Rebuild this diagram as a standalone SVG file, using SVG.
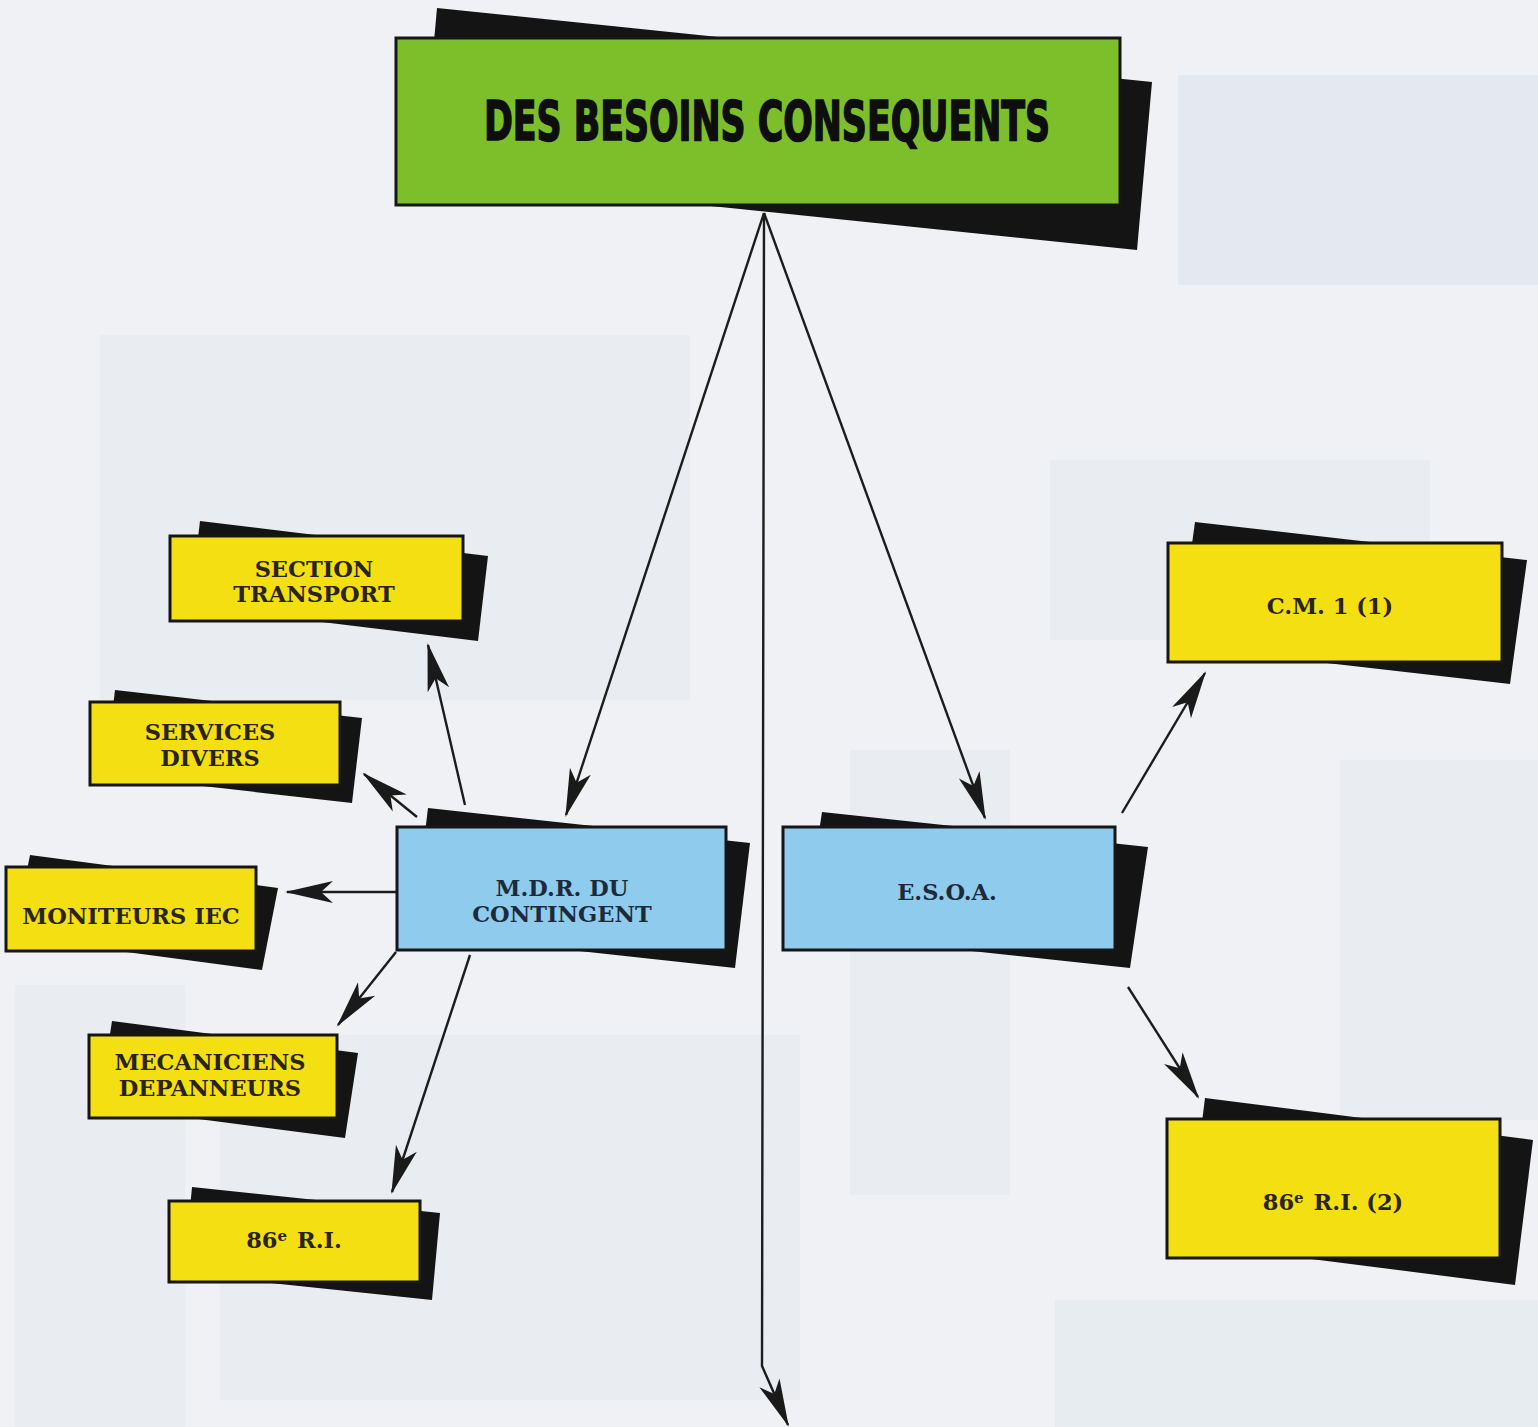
<svg xmlns="http://www.w3.org/2000/svg" width="1538" height="1427" viewBox="0 0 1538 1427">
<defs>
<style>
.sh{fill:#141414}
.box{stroke:#161616;stroke-width:3}
.g{fill:#7dbf2a}
.y{fill:#f4df12}
.b{fill:#8fcbec}
.t{font-family:"DejaVu Serif","Liberation Serif",serif;font-weight:bold;font-size:22.5px;fill:#2a2418;text-anchor:middle}
.tb{fill:#1c2a3a}
.title{font-family:"DejaVu Sans Condensed","Liberation Sans Narrow","Liberation Sans",sans-serif;font-stretch:condensed;font-weight:bold;font-size:56px;fill:#0e0e0e;stroke:#0e0e0e;stroke-width:1.6;text-anchor:middle}
.c{fill:none;stroke:#1c1c1c;stroke-width:2.4}
.ghost{fill:#e4e9ef}
</style>
<marker id="arr" markerUnits="userSpaceOnUse" markerWidth="60" markerHeight="40" viewBox="-50 -20 60 40" refX="0" refY="0" orient="auto">
<path d="M2,0 L-46,-11 L-34,0 L-46,11 Z" fill="#1a1a1a"/>
</marker>
</defs>
<rect x="0" y="0" width="1538" height="1427" fill="#eff1f4"/>
<g id="background">
<rect class="ghost" x="1178" y="75" width="360" height="210"/>
<rect class="ghost" x="100" y="335" width="590" height="365" opacity="0.6"/>
<rect class="ghost" x="1050" y="460" width="380" height="180" opacity="0.5"/>
<rect class="ghost" x="850" y="750" width="160" height="445" opacity="0.5"/>
<rect class="ghost" x="1340" y="760" width="198" height="360" opacity="0.5"/>
<rect class="ghost" x="15" y="985" width="170" height="442" opacity="0.5"/>
<rect class="ghost" x="220" y="1035" width="580" height="365" opacity="0.5"/>
<rect class="ghost" x="1055" y="1300" width="483" height="127" opacity="0.7"/>
</g>
<g id="connectors">
<line class="c" x1="764" y1="213" x2="566" y2="815" marker-end="url(#arr)"/>
<line class="c" x1="764" y1="213" x2="985" y2="818" marker-end="url(#arr)"/>
<polyline class="c" points="764,213 762,1366 788,1425" marker-end="url(#arr)"/>
<line class="c" x1="465" y1="805" x2="428" y2="645" marker-end="url(#arr)"/>
<line class="c" x1="417" y1="817" x2="364" y2="774" marker-end="url(#arr)"/>
<line class="c" x1="397" y1="892" x2="287" y2="892" marker-end="url(#arr)"/>
<line class="c" x1="396" y1="952" x2="338" y2="1025" marker-end="url(#arr)"/>
<line class="c" x1="470" y1="955" x2="392" y2="1192" marker-end="url(#arr)"/>
<line class="c" x1="1122" y1="813" x2="1205" y2="673" marker-end="url(#arr)"/>
<line class="c" x1="1128" y1="987" x2="1198" y2="1097" marker-end="url(#arr)"/>
</g>
<g id="title">
<polygon class="sh" points="437,8 1152,82 1137,250 422,176"/>
<rect class="box g" x="396" y="38" width="724" height="167"/>
<text class="title" x="767" y="140" textLength="566" lengthAdjust="spacingAndGlyphs">DES BESOINS  CONSEQUENTS</text>
</g>
<g id="section-transport">
<polygon class="sh" points="200,521 488,556 478,641 190,606"/>
<rect class="box y" x="170" y="536" width="293" height="85"/>
<text class="t" x="314" y="577">SECTION</text>
<text class="t" x="314" y="602">TRANSPORT</text>
</g>
<g id="services-divers">
<polygon class="sh" points="115,690 362,718 352,803 105,775"/>
<rect class="box y" x="90" y="702" width="250" height="83"/>
<text class="t" x="210" y="740">SERVICES</text>
<text class="t" x="210" y="766">DIVERS</text>
</g>
<g id="moniteurs-iec">
<polygon class="sh" points="30,855 278,888 262,970 14,937"/>
<rect class="box y" x="6" y="867" width="250" height="84"/>
<text class="t" x="131" y="924">MONITEURS IEC</text>
</g>
<g id="mdr">
<polygon class="sh" points="428,808 750,843 735,968 413,933"/>
<rect class="box b" x="397" y="827" width="329" height="123"/>
<text class="t tb" x="562" y="896">M.D.R. DU</text>
<text class="t tb" x="562" y="922">CONTINGENT</text>
</g>
<g id="esoa">
<polygon class="sh" points="822,812 1148,847 1130,968 804,933"/>
<rect class="box b" x="783" y="827" width="332" height="123"/>
<text class="t tb" x="947" y="900">E.S.O.A.</text>
</g>
<g id="cm1">
<polygon class="sh" points="1195,522 1527,560 1510,684 1178,646"/>
<rect class="box y" x="1168" y="543" width="334" height="119"/>
<text class="t" x="1330" y="614">C.M. 1  (1)</text>
</g>
<g id="mecaniciens">
<polygon class="sh" points="112,1021 358,1053 345,1138 99,1106"/>
<rect class="box y" x="89" y="1035" width="248" height="83"/>
<text class="t" x="210" y="1070">MECANICIENS</text>
<text class="t" x="210" y="1096">DEPANNEURS</text>
</g>
<g id="ri86">
<polygon class="sh" points="192,1187 440,1213 432,1300 184,1274"/>
<rect class="box y" x="169" y="1201" width="251" height="81"/>
<text class="t" x="294" y="1248">86<tspan font-size="15" dy="-7">e</tspan><tspan dy="7" dx="10">R.I.</tspan></text>
</g>
<g id="ri86-2">
<polygon class="sh" points="1205,1098 1533,1140 1515,1285 1187,1243"/>
<rect class="box y" x="1167" y="1119" width="333" height="139"/>
<text class="t" x="1333" y="1210">86<tspan font-size="15" dy="-7">e</tspan><tspan dy="7" dx="10">R.I.  (2)</tspan></text>
</g>
</svg>
